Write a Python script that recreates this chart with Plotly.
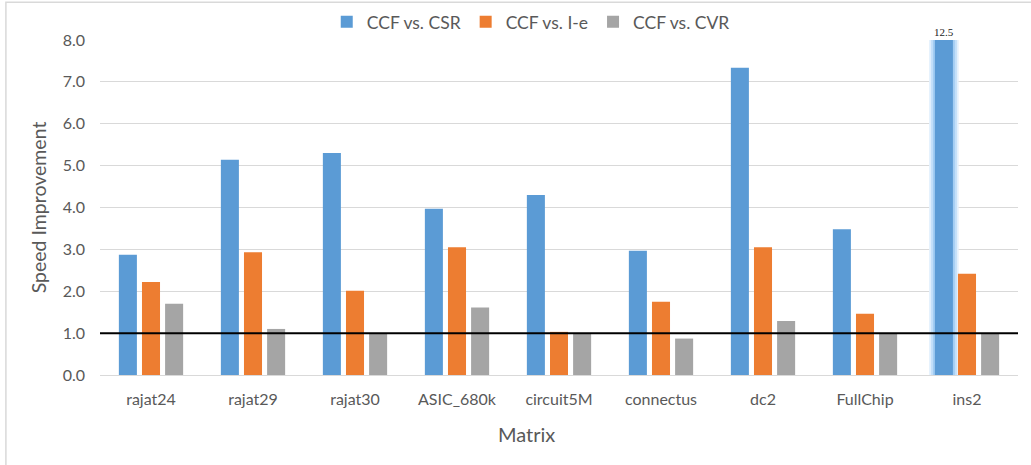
import plotly.graph_objects as go

# Speed-up of CCF over the three baseline formats, per test matrix
matrices = ["rajat24", "rajat29", "rajat30", "ASIC_680k", "circuit5M",
            "connectus", "dc2", "FullChip", "ins2"]
vs_csr = [2.87, 5.14, 5.30, 3.97, 4.30, 2.97, 7.34, 3.48, 12.5]
vs_ie = [2.22, 2.93, 2.01, 3.05, 1.03, 1.75, 3.05, 1.46, 2.42]
vs_cvr = [1.70, 1.10, 1.00, 1.61, 1.00, 0.87, 1.29, 1.00, 1.00]

series = [
    ("CCF vs. CSR", vs_csr, "#5B9BD5", "csr"),
    ("CCF vs. I-e", vs_ie, "#ED7D31", "ie"),
    ("CCF vs. CVR", vs_cvr, "#A5A5A5", "cvr"),
]

y_max = 8.0
font_family = "Lato, 'Open Sans', sans-serif"
text_color = "#595959"

fig = go.Figure()

# soft glow behind bars that run past the top of the axis (drawn first, same slot)
clipped_csr = [v if v > y_max else None for v in vs_csr]
for w, c in [(0.29, "#E4F1FD"), (0.255, "#C4E0FA"), (0.215, "#A3CDF3")]:
    fig.add_trace(go.Bar(
        x=matrices, y=clipped_csr, width=w, offsetgroup="csr",
        marker=dict(color=c, line=dict(width=0)),
        showlegend=False, hoverinfo="skip",
    ))

for name, vals, color, grp in series:
    fig.add_trace(go.Bar(
        name=name, x=matrices, y=vals, offsetgroup=grp,
        marker=dict(color=color, line=dict(width=0)),
    ))

# value label for the clipped bar
for m, v in zip(matrices, vs_csr):
    if v > y_max:
        fig.add_annotation(
            x=m, y=y_max, xshift=-23, yshift=0, text=f"{v:g}", showarrow=False,
            yanchor="bottom",
            font=dict(family="'Liberation Serif', 'DejaVu Serif', serif", size=11, color="#222"),
        )

# x-axis title
fig.add_annotation(
    x=0.465, xref="paper", y=-0.175, yref="paper", text="Matrix", showarrow=False,
    xanchor="center", yanchor="middle", font=dict(size=20, color=text_color),
)

# reference line at speed-up 1.0
fig.add_shape(type="line", xref="paper", x0=0, x1=1, yref="y", y0=1.0, y1=1.0,
              line=dict(color="black", width=2), layer="above")

# chart border (left and top edges fall inside the canvas)
fig.add_shape(type="rect", xref="paper", yref="paper",
              x0=-0.1025, x1=1.2, y0=-0.6, y1=1.113,
              line=dict(color="#D9D9D9", width=1.5), layer="below")

fig.update_layout(
    width=1031, height=465,
    margin=dict(l=100, r=13, t=40, b=90, autoexpand=False),
    barmode="group", bargap=0.32, bargroupgap=0.22,
    plot_bgcolor="white", paper_bgcolor="white",
    font=dict(family=font_family, color=text_color, size=16),
    legend=dict(orientation="h", x=0.247, xanchor="left", y=1.054, yanchor="middle",
                font=dict(size=17.5, color=text_color), itemwidth=30,
                traceorder="normal", bgcolor="rgba(0,0,0,0)"),
    xaxis=dict(showline=False, ticks="", tickfont=dict(size=16), ticklabelstandoff=13),
    yaxis=dict(title=dict(text="Speed Improvement", font=dict(size=19.5), standoff=10),
               range=[0, y_max], dtick=1, tickformat=".1f",
               showgrid=True, gridcolor="#D9D9D9", gridwidth=1,
               zeroline=True, zerolinecolor="#D9D9D9", zerolinewidth=1,
               showline=False, ticks="", tickfont=dict(size=16), ticklabelstandoff=14),
)

fig.write_html("out.html")
